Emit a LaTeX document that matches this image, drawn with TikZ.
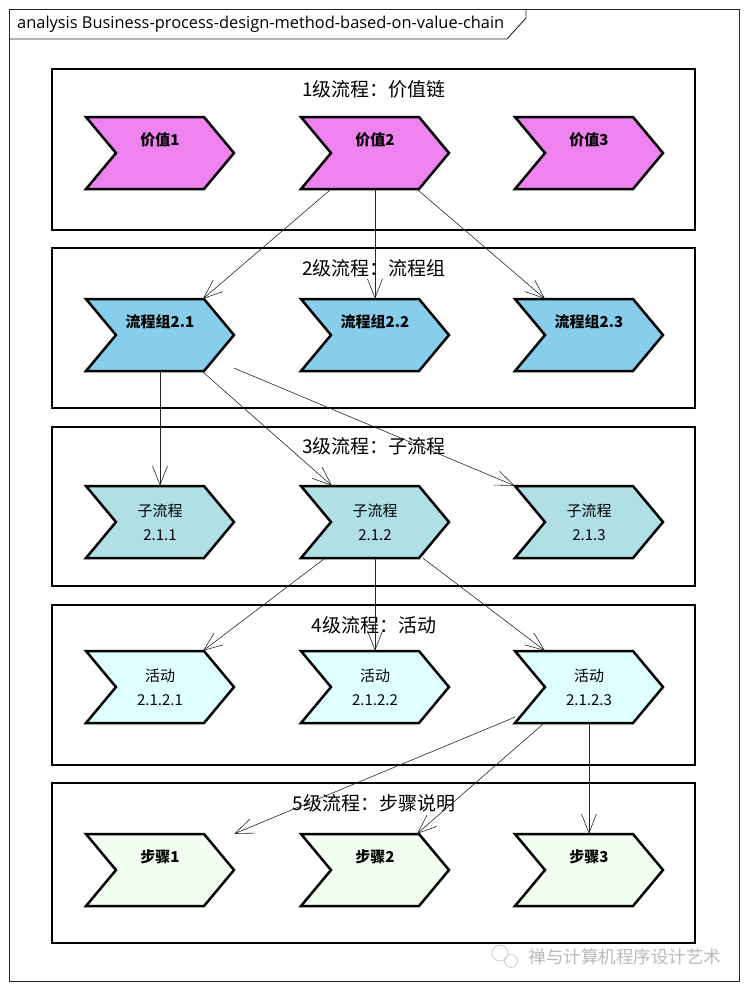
\documentclass[tikz,border=0pt]{standalone}
\usepackage{fontspec}
\setmainfont{Noto Sans CJK SC}
\newfontfamily\titlefont{Open Sans}
\usetikzlibrary{arrows.meta,calc}

\definecolor{chevA}{HTML}{EE82EE}
\definecolor{chevB}{HTML}{87CEEB}
\definecolor{chevC}{HTML}{B0E0E6}
\definecolor{chevD}{HTML}{E0FFFF}
\definecolor{chevE}{HTML}{F0FFF0}

\tikzset{
  lanebox/.style={line width=2.6pt,black},
  lanetitle/.style={font=\fontsize{19}{22}\selectfont,inner sep=0pt},
  chevron/.style={line width=2.5pt,black,line join=miter},
  chevtext/.style={minimum width=148pt,minimum height=72pt,inner sep=0pt,align=center,font=\fontsize{15}{24}\selectfont},
  oneline/.style={text depth=27pt,font=\bfseries\fontsize{15}{24}\selectfont},
  link/.style={line width=0.6pt,black!85,-{Straight Barb[length=19pt,width=15pt]}},
}

\begin{document}
\begin{tikzpicture}[x=1pt,y=-1pt]
  \useasboundingbox (0,0) rectangle (747,989);
  % frame and tab
  \draw[black!85,line width=0.9pt] (9,9) rectangle (739,981);
  \draw[black!85,line width=0.9pt] (9,39) -- (507,39) -- (526,18) -- (526,9);
  \node[anchor=west,inner sep=0pt,font=\titlefont\fontsize{16.4}{19}\selectfont] (title) at (17,24) {analysis Business-process-design-method-based-on-value-chain};

  % lanes
  \foreach \top/\bot in {69/230,248/408,427/586,605/765,783/943}
    \draw[lanebox] (52,\top) rectangle (695,\bot);
  \node[lanetitle] (t1) at (374,89) {1级流程：价值链};
  \node[lanetitle] (t2) at (374,268) {2级流程：流程组};
  \node[lanetitle] (t3) at (374,446) {3级流程：子流程};
  \node[lanetitle] (t4) at (374,625) {4级流程：活动};
  \node[lanetitle] (t5) at (374,803) {5级流程：步骤说明};

  % chevrons
  \foreach \y/\c in {153/chevA,335/chevB,522/chevC,687/chevD,870/chevE}
    \foreach \x in {160,375,589}
      \draw[chevron,fill=\c] (\x-74,\y-36) -- (\x+44,\y-36) -- (\x+74,\y) -- (\x+44,\y+36) -- (\x-74,\y+36) -- (\x-44,\y) -- cycle;

  \node[chevtext,oneline] (v1) at (160,153) {价值1};
  \node[chevtext,oneline] (v2) at (375,153) {价值2};
  \node[chevtext,oneline] (v3) at (589,153) {价值3};
  \node[chevtext,oneline] (g1) at (160,335) {流程组2.1};
  \node[chevtext,oneline] (g2) at (375,335) {流程组2.2};
  \node[chevtext,oneline] (g3) at (589,335) {流程组2.3};
  \node[chevtext] (s1) at (160,522) {子流程\\2.1.1};
  \node[chevtext] (s2) at (375,522) {子流程\\2.1.2};
  \node[chevtext] (s3) at (589,522) {子流程\\2.1.3};
  \node[chevtext] (a1) at (160,687) {活动\\2.1.2.1};
  \node[chevtext] (a2) at (375,687) {活动\\2.1.2.2};
  \node[chevtext] (a3) at (589,687) {活动\\2.1.2.3};
  \node[chevtext,oneline] (b1) at (160,870) {步骤1};
  \node[chevtext,oneline] (b2) at (375,870) {步骤2};
  \node[chevtext,oneline] (b3) at (589,870) {步骤3};

  % links
  \draw[link] ([xshift=-44pt]v2.south) -- ([xshift=43pt]g1.north);
  \draw[link] (v2.south) -- (g2.north);
  \draw[link] ([xshift=42pt]v2.south) -- ([xshift=-44pt]g3.north);
  \draw[link] (g1.south) -- (s1.north);
  \draw[link] ([xshift=42pt]g1.south) -- ([xshift=-43pt]s2.north);
  \draw[link] ([yshift=3pt]g1.south east) -- (s3.north west);
  \draw[link] ([xshift=-50pt]s2.south) -- ([xshift=43pt]a1.north);
  \draw[link] (s2.south) -- (a2.north);
  \draw[link] ([xshift=48pt]s2.south) -- ([xshift=-44pt]a3.north);
  \draw[link] ([yshift=6pt]a3.south west) -- (b1.north east);
  \draw[link] ([xshift=-45pt]a3.south) -- ([xshift=42pt]b2.north);
  \draw[link] (a3.south) -- (b3.north);

  % watermark
  \draw[gray!40,line width=0.8pt] (500,953) circle (8) (511,961) circle (6.5);
  \node[text=gray!55,font=\fontsize{17.5}{20}\selectfont,inner sep=0pt] (wm) at (625,957) {禅与计算机程序设计艺术};
\end{tikzpicture}
\end{document}
